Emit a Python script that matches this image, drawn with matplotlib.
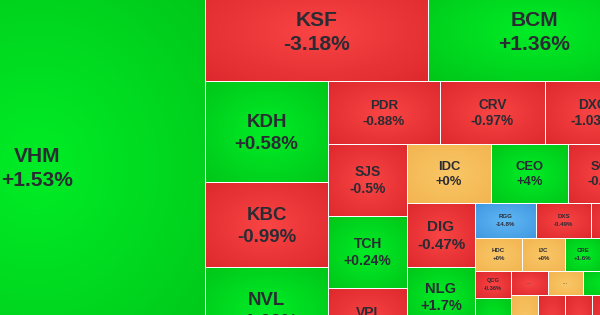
import matplotlib
matplotlib.use("Agg")
import matplotlib.pyplot as plt
import numpy as np

# stock heatmap (treemap), view is a crop of a larger map
tickers = ["VHM", "KSF", "BCM", "KDH", "KBC", "NVL", "PDR", "CRV", "DXG",
           "SJS", "TCH", "VPI", "IDC", "CEO", "SCR", "DIG", "NLG", "...",
           "RGG", "DXS", "...", "HDC", "IJC", "CRE", "...", "QCG", "...",
           "...", "...", "...", "...", "...", "...", "..."]
changes = [1.53, -3.18, 1.36, 0.58, -0.99, 1.09, -0.88, -0.97, -1.03,
           -0.5, 0.24, -0.5, 0, 4, -0.3, -0.47, 1.7, 0.5,
           -14.8, -0.49, -0.5, 0, 0, 1.6, 0, -0.36, 0.5,
           -0.5, 0, 0.5, 0, -0.5, -0.5, -0.5]
# relative market cap weights
weights = [124992, 22300, 21200, 12423, 10455, 10578, 7056, 6615, 5985,
           5688, 5688, 5135, 4956, 4543, 4248, 4352, 4012, 1836,
           2135, 1925, 1715, 1551, 1419, 1188, 1287, 972, 1980,
           888, 840, 1368, 1566, 1566, 1566, 2784]
strip_sizes = [1, 2, 3, 3, 3, 3, 3, 3, 4, 2, 3, 4]
strip_sides = ["left", "top", "left", "top", "left", "top", "left", "top",
               "top", "left", "top", "top"]

# font size (pt) per ticker
font_pt = {"VHM": 15.1, "KSF": 15.1, "BCM": 15.1, "KDH": 13.4, "KBC": 13.4,
           "NVL": 13.4, "PDR": 9.6, "CRV": 9.8, "DXG": 9.8, "SJS": 10,
           "TCH": 10, "VPI": 10, "IDC": 9.4, "CEO": 9.4, "SCR": 9.4,
           "DIG": 11, "NLG": 10.5, "RGG": 4.4, "DXS": 4.4, "HDC": 4.4,
           "IJC": 4.4, "CRE": 4.4, "QCG": 4.1}

# canvas of the full map in pixel units of the view (0..600 x 0..315)
X0, Y0, X1, Y1 = -131, -18, 640, 354


def layout(x, y, w, h):
    ws = np.array(weights, float)
    ws = ws * (w * h) / ws.sum()
    rects = []
    i = 0
    for n, side in zip(strip_sizes, strip_sides):
        part = ws[i:i + n]
        if side == "left":
            t = part.sum() / h
            yy = y
            for v in part:
                rects.append((x, yy, t, v / t))
                yy += v / t
            x += t
            w -= t
        else:
            t = part.sum() / w
            xx = x
            for v in part:
                rects.append((xx, y, v / t, t))
                xx += v / t
            y += t
            h -= t
        i += n
    return rects


def colors_for(c):
    if c <= -6.9:
        return (0.38, 0.72, 0.96), (0.25, 0.6, 0.88)
    if c < 0:
        return (0.98, 0.27, 0.27), (0.87, 0.16, 0.18)
    if c > 0:
        return (0.0, 0.93, 0.15), (0.0, 0.78, 0.1)
    return (0.98, 0.78, 0.40), (0.95, 0.71, 0.32)


fig = plt.figure(figsize=(6, 3.15), dpi=100)
ax = fig.add_axes([0, 0, 1, 1])
ax.set_facecolor("white")

gx, gy = np.meshgrid(np.linspace(-1, 1, 40), np.linspace(-1, 1, 40))
r = np.clip(np.sqrt(gx ** 2 + gy ** 2) / np.sqrt(2), 0, 1)

gap = 0.9
for (x, y, w, h), name, c in zip(layout(X0, Y0, X1 - X0, Y1 - Y0), tickers, changes):
    inner, outer = colors_for(c)
    img = np.array(inner)[None, None, :] * (1 - r[..., None]) + np.array(outer)[None, None, :] * r[..., None]
    ax.imshow(img, extent=(x + gap, x + w - gap, y + h - gap, y + gap),
              aspect="auto", interpolation="bilinear", zorder=1)
    cx, cy = x + w / 2, y + h / 2 - 1.5
    if name == "...":
        ax.text(cx, cy, "...", ha="center", va="center", fontsize=4.5,
                color="#2b2b33", fontfamily="Liberation Sans", zorder=3)
        continue
    fs = font_pt.get(name, 4.5)
    em = fs * 100 / 72
    d = 1.18 * em if fs > 6 else 1.25 * em
    cap = 0.716 * em
    kw = dict(ha="center", va="baseline", fontsize=fs, color="#2b2b33",
              fontweight="bold", fontfamily="Liberation Sans", zorder=3)
    ax.text(cx, cy - d / 2 + cap / 2, name, **kw)
    ax.text(cx, cy + d / 2 + cap / 2, f"{c:+g}%", **kw)

ax.set_xlim(0, 600)
ax.set_ylim(315, 0)
ax.axis("off")
fig.savefig("out.png", dpi=100, facecolor="white")
